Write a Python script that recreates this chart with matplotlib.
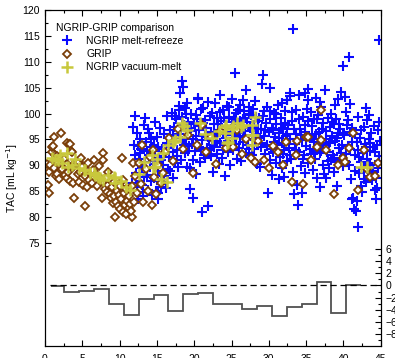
import matplotlib
matplotlib.use("Agg")
import matplotlib.pyplot as plt
import numpy as np

plt.rcParams['font.family'] = ['Liberation Sans', 'DejaVu Sans']
plt.rcParams['font.size'] = 7

# NGRIP melt-refreeze (age kyr, TAC)
ngrip_mr_x = [11.6, 11.8, 12.0, 12.1, 12.2, 12.3, 12.3, 12.4, 11.9, 12.5,
              12.6, 12.7, 12.8, 12.9, 13.0, 13.1, 13.2, 13.3, 13.4, 13.4, 13.0, 12.8,
              13.6, 13.7, 13.8, 13.9, 14.0, 14.1, 14.2, 14.3, 14.4, 14.5, 13.8,
              14.6, 14.7, 14.8, 14.9, 15.0, 15.1, 15.2, 15.3, 15.4, 15.5, 14.6, 15.2,
              15.6, 15.7, 15.8, 15.9, 16.0, 16.1, 16.2, 16.3, 16.4, 16.5, 15.6,
              16.6, 16.7, 16.8, 16.9, 17.0, 17.1, 17.2, 17.3, 17.4, 17.5,
              17.6, 17.7, 17.8, 17.9, 18.0, 18.1, 18.3, 18.4, 18.5, 18.2, 18.4,
              18.6, 18.7, 18.8, 18.9, 19.0, 19.1, 19.2, 19.3, 19.4, 19.4, 19.5,
              19.6, 19.7, 19.8, 19.9, 20.0, 20.1, 20.2, 20.3, 20.5, 20.4,
              20.6, 20.7, 20.8, 20.9, 21.0, 21.1, 21.2, 21.3, 21.4, 21.5,
              21.6, 21.7, 21.8, 21.9, 22.0, 22.1, 22.2, 22.3, 22.5, 22.4,
              22.6, 22.7, 22.8, 22.9, 23.0, 23.1, 23.2, 23.3, 23.4, 23.5,
              23.6, 23.7, 23.8, 23.9, 24.0, 24.1, 24.2, 24.3, 24.4, 24.5,
              24.6, 24.7, 24.8, 24.9, 25.0, 25.1, 25.2, 25.3, 25.4, 25.5,
              25.6, 25.7, 25.8, 25.9, 26.0, 26.1, 26.2, 26.3, 26.4, 26.5,
              26.6, 26.7, 26.8, 26.9, 27.0, 27.1, 27.2, 27.3, 27.4, 27.5,
              27.6, 27.7, 27.8, 27.9, 28.0, 28.1, 28.2, 28.3, 28.4, 28.5,
              28.6, 28.7, 28.8, 28.9, 29.0, 29.1, 29.2, 29.3, 29.4, 29.5,
              29.6, 29.7, 29.8, 29.9, 30.0, 30.1, 30.2, 30.3, 30.4, 30.5,
              30.6, 30.7, 30.8, 30.9, 31.0, 31.1, 31.2, 31.3, 31.4, 31.5,
              31.6, 31.7, 31.8, 31.9, 32.0, 32.1, 32.2, 32.3, 32.4, 32.5,
              32.6, 32.7, 32.8, 32.9, 33.0, 33.1, 33.3, 33.4, 33.5, 33.2,
              33.6, 33.7, 33.8, 33.9, 34.0, 34.1, 34.2, 34.3, 34.4, 34.5,
              34.6, 34.7, 34.8, 34.9, 35.0, 35.1, 35.2, 35.3, 35.3, 35.5,
              35.6, 35.7, 35.8, 35.9, 36.0, 36.1, 36.2, 36.3, 36.4, 36.5,
              36.6, 36.7, 36.8, 36.9, 37.0, 37.1, 37.2, 37.3, 37.5, 37.4,
              37.6, 37.7, 37.8, 37.9, 38.0, 38.1, 38.2, 38.3, 38.4, 38.5,
              38.6, 38.7, 38.8, 38.9, 39.0, 39.1, 39.2, 39.3, 39.4, 39.5,
              39.6, 39.7, 39.8, 39.9, 40.0, 40.1, 40.2, 40.3, 40.4, 40.5,
              40.6, 40.7, 40.8, 40.9, 41.0, 41.1, 41.2, 41.3, 41.4, 41.5,
              41.6, 41.7, 41.8, 41.9, 42.0, 42.1, 42.2, 42.3, 42.4, 42.5,
              42.6, 42.7, 42.8, 42.9, 43.0, 43.1, 43.2, 43.3, 43.4, 43.5,
              43.6, 43.7, 43.8, 43.9, 44.0, 44.2, 44.3, 44.4, 44.5, 44.6, 44.7, 44.8, 44.9, 44.8, 44.6,
              40.9, 39.3, 43.0, 41.9, 36.3, 34.9, 32.8, 31.7, 30.2, 38.9, 36.9, 20.5, 26.5, 32.4,
              17.1, 17.4, 17.7, 18.0, 18.2, 18.6, 18.9, 19.2, 19.6, 19.9,
              20.2, 20.6, 20.9, 21.2, 21.5, 21.8, 22.1, 22.4, 22.7, 23.0,
              23.2, 23.5, 23.8, 24.0, 24.3, 24.7, 25.0, 25.3, 25.6, 25.9,
              26.2, 26.5, 26.8, 27.1, 27.4, 27.7, 28.0, 28.3, 28.6, 28.9,
              29.2, 29.5, 29.8, 30.1, 30.4, 30.7, 31.0, 31.3, 31.6, 31.9,
              32.2, 32.5, 32.8, 33.1, 33.4, 33.7, 34.0, 34.3, 34.6, 34.9,
              35.2, 35.5, 35.8, 36.1, 36.4, 36.7, 37.0, 37.3, 37.6, 37.9,
              38.2, 38.5, 38.8, 39.1, 39.4, 39.7, 40.0, 40.3, 40.6, 40.9,
              41.2, 41.5, 41.8, 42.1, 42.4, 42.7, 43.0, 43.3, 43.6, 43.9, 44.2, 44.5, 44.8, 44.1, 43.4,
              12.4, 12.9, 13.3, 13.7, 14.2, 14.7, 15.1, 15.6, 16.0, 16.6]
ngrip_mr_y = [86.5, 97.4, 99.5, 92.0, 88.5, 96.2, 85.8, 90.3, 94.0, 83.5,
              91.2, 87.0, 95.0, 93.1, 89.4, 84.8, 84.0, 97.8, 99.1, 90.6, 86.2, 92.4,
              94.6, 88.2, 85.3, 91.9, 96.3, 89.6, 86.9, 93.5, 84.2, 90.8, 97.1,
              87.6, 98.4, 92.7, 85.1, 95.4, 89.0, 83.4, 91.5, 97.2, 86.4, 94.0, 84.6,
              86.7, 93.2, 90.1, 88.0, 96.1, 92.3, 85.7, 99.5, 94.4, 89.3, 85.9,
              91.6, 96.8, 88.9, 94.1, 100.2, 92.6, 87.5, 97.5, 90.4, 95.3,
              98.9, 93.0, 89.6, 101.5, 96.0, 103.9, 106.2, 94.7, 105.2, 91.1, 99.3,
              97.7, 92.3, 101.0, 95.1, 102.0, 89.7, 98.4, 93.8, 85.4, 89.4, 96.6,
              100.0, 94.2, 91.0, 83.6, 97.9, 92.7, 95.6, 88.3, 103.0, 99.0,
              93.5, 96.9, 90.6, 100.8, 94.8, 81.0, 98.2, 92.0, 91.4, 95.9,
              97.3, 93.3, 82.1, 102.3, 95.0, 99.6, 91.8, 96.4, 88.8, 94.0,
              97.9, 93.6, 102.0, 95.7, 99.1, 92.1, 96.8, 90.2, 103.6, 94.3,
              98.5, 91.5, 96.1, 100.6, 93.9, 88.0, 97.4, 95.2, 101.4, 92.6,
              99.4, 94.6, 90.0, 97.0, 102.8, 95.8, 92.9, 98.9, 107.8, 94.1,
              100.1, 96.3, 91.2, 98.0, 93.4, 101.7, 95.5, 90.9, 97.6, 99.0,
              94.5, 100.5, 96.6, 92.4, 104.5, 98.3, 95.1, 101.2, 93.2, 97.2,
              99.8, 95.9, 92.0, 100.9, 97.5, 94.8, 102.5, 96.0, 90.3, 98.6,
              95.3, 99.2, 89.7, 97.1, 93.6, 105.7, 107.4, 100.4, 95.7, 92.2,
              98.2, 94.0, 101.3, 84.6, 96.5, 91.0, 99.0, 93.1, 88.2, 96.9,
              92.6, 100.2, 95.4, 90.5, 98.0, 93.9, 101.6, 87.4, 96.2, 91.7,
              99.1, 94.4, 89.4, 97.3, 92.9, 87.7, 100.4, 95.6, 102.6, 90.8,
              97.8, 93.3, 103.9, 95.0, 91.3, 98.6, 116.3, 84.5, 94.2, 88.8,
              100.7, 96.0, 86.2, 82.4, 92.5, 103.6, 97.0, 89.9, 94.9, 84.7,
              99.4, 91.9, 96.4, 88.6, 93.7, 100.8, 90.4, 104.7, 102.6, 95.3,
              92.1, 100.3, 97.6, 89.1, 94.6, 98.9, 91.3, 96.1, 87.6, 93.0,
              99.7, 95.0, 85.9, 92.4, 101.3, 97.1, 90.1, 94.0, 104.5, 88.3,
              87.6, 96.7, 92.6, 99.2, 94.3, 89.5, 97.5, 91.0, 100.0, 95.6,
              92.0, 97.9, 88.8, 94.7, 99.0, 90.6, 86.0, 96.2, 93.4, 91.1,
              97.0, 104.2, 94.0, 89.9, 109.2, 95.8, 103.2, 92.2, 100.3, 97.7,
              93.7, 111.0, 90.0, 96.5, 87.3, 83.4, 94.5, 83.6, 81.5, 91.9,
              96.0, 81.1, 83.1, 78.0, 93.0, 88.6, 95.3, 86.0, 90.7, 84.8,
              92.4, 97.4, 89.2, 94.1, 86.7, 98.7, 91.2, 88.0, 95.0, 92.8,
              90.0, 96.3, 87.2, 93.5, 89.0, 85.2, 83.4, 87.5, 85.6, 96.8, 91.8, 114.3, 94.7, 98.4, 89.5,
              101.8, 102.9, 101.0, 99.3, 103.0, 103.9, 103.4, 102.1, 105.0, 101.7, 102.3, 102.9, 102.6, 102.6,
              95.9, 99.6, 91.8, 100.7, 97.1, 94.0, 99.9, 92.7, 97.3, 95.0,
              99.8, 97.6, 93.1, 101.0, 98.7, 95.4, 92.9, 100.1, 96.2, 94.7,
              98.0, 100.3, 93.0, 99.2, 96.5, 101.2, 98.4, 96.0, 94.2, 100.6,
              98.6, 95.6, 99.1, 93.9, 100.0, 97.0, 93.2, 99.4, 97.0, 94.3,
              99.6, 96.8, 93.7, 100.4, 97.3, 94.6, 99.9, 95.2, 97.1, 92.2,
              98.1, 96.0, 92.0, 100.3, 97.1, 93.0, 98.9, 95.8, 91.2, 97.7,
              98.6, 93.2, 95.6, 92.6, 99.0, 96.4, 92.8, 98.2, 95.0, 90.8,
              94.6, 98.4, 91.4, 95.2, 98.0, 92.4, 96.2, 90.6, 98.8, 93.1,
              97.2, 89.0, 94.5, 91.6, 96.8, 87.4, 93.6, 90.4, 94.3, 88.5, 92.6, 94.0, 90.9, 97.6, 99.8,
              93.8, 90.0, 87.8, 92.7, 95.1, 90.3, 93.6, 91.0, 88.6, 93.9]

# GRIP
grip_x = [0.3, 0.4, 0.5, 0.5, 0.7, 0.9, 1.0, 1.1, 1.2, 1.25, 1.3, 1.5, 1.6, 1.6, 1.8, 2.0, 2.1, 1.9,
          2.3, 2.5, 2.7, 2.9, 2.9, 3.0, 3.2, 3.3, 3.1, 3.5, 3.6, 3.4, 3.7, 3.9, 4.0, 3.8,
          4.2, 4.4, 4.5, 4.5, 4.7, 4.8, 5.0, 5.1, 5.3, 5.4, 5.6, 5.7, 5.8, 5.9,
          6.1, 6.3, 6.5, 6.6, 6.9, 7.0, 7.2, 7.4, 7.6, 7.8, 7.8, 7.9, 8.0,
          8.2, 8.3, 8.4, 8.5, 8.7, 8.8, 8.9, 9.0, 9.1, 9.2, 9.3, 9.4, 9.5, 9.6, 9.8, 9.9, 10.0,
          10.1, 10.2, 10.3, 10.4, 10.5, 10.6, 10.7, 10.8, 10.9, 11.0, 11.2, 11.3, 11.4, 11.6, 11.7, 11.8, 11.9, 11.5,
          12.1, 12.3, 12.6, 12.9, 13.2, 13.5, 13.8, 14.1, 14.3, 14.6, 14.9, 15.2, 15.5, 15.8, 16.1, 13.0, 14.5,
          16.6, 17.2, 17.8, 18.5, 19.2, 19.8, 20.4, 21.0, 21.6, 22.3, 22.9, 23.5, 24.2, 24.6, 25.2,
          25.8, 26.4, 27.0, 27.6, 28.1, 28.6, 29.4, 30.0, 30.5, 31.2, 31.9, 32.3, 33.1, 33.7, 33.8,
          34.6, 35.0, 35.2, 35.7, 36.4, 37.0, 37.0, 37.7, 38.7, 39.3, 39.9, 40.2, 40.8, 41.3, 41.9,
          42.8, 43.2, 43.5, 44.2, 44.6]
grip_y = [90.3, 86.2, 84.6, 88.8, 90.1, 92.5, 93.6, 93.7, 89.5, 95.5, 92.0, 88.0, 91.8, 88.4, 90.6, 91.7, 96.3, 87.3,
          89.2, 91.2, 88.1, 94.4, 87.5, 90.3, 94.1, 94.2, 88.8, 92.8, 92.6, 87.0, 89.6, 83.6, 90.4, 86.5,
          90.7, 88.3, 90.7, 86.8, 88.8, 91.5, 89.6, 86.2, 82.1, 88.0, 85.9, 89.0, 90.4, 87.2,
          88.6, 86.5, 89.1, 91.0, 88.4, 86.0, 89.8, 87.5, 83.6, 92.3, 91.0, 86.6, 85.5,
          87.6, 84.9, 88.8, 86.2, 84.5, 87.0, 83.7, 85.8, 82.8, 84.0, 86.8, 80.1, 83.0, 85.0, 82.2, 84.3, 86.0,
          81.6, 83.5, 91.4, 80.9, 87.2, 84.6, 82.4, 80.6, 85.5, 83.1, 81.7, 84.0, 82.6, 80.1, 86.0, 90.4, 83.0, 81.2,
          88.0, 84.6, 90.5, 86.3, 82.9, 89.2, 85.0, 91.7, 82.3, 87.8, 84.4, 90.0, 86.5, 88.6, 92.5, 94.0, 92.9,
          95.3, 90.8, 97.0, 93.2, 95.8, 88.5, 94.0, 97.8, 92.6, 95.5, 90.2, 96.6, 93.4, 94.1, 93.5,
          96.9, 92.1, 95.0, 91.5, 90.6, 94.7, 91.1, 89.4, 93.8, 92.6, 90.1, 94.6, 86.8, 92.0, 94.7,
          86.3, 95.5, 95.4, 91.0, 93.6, 100.7, 94.9, 93.0, 84.4, 90.0, 91.4, 90.7, 93.3, 96.3, 85.2,
          93.0, 89.3, 87.8, 88.0, 90.5]

# NGRIP vacuum-melt
ngrip_vm_x = [0.9, 1.4, 1.8, 2.0, 2.3, 2.9, 3.1, 3.6, 4.0, 4.5, 5.2, 5.4, 6.0, 6.6, 6.7, 7.1, 7.4, 7.8,
              8.4, 9.2, 9.4, 9.4, 10.2, 10.9, 11.4, 12.6, 13.3, 14.3, 14.5, 14.7, 15.0, 15.6, 15.8, 16.4,
              16.5, 17.2, 17.4, 18.1, 18.3, 18.6, 19.0, 20.8, 21.5, 22.4, 23.3, 24.1, 24.1, 24.3, 24.4,
              24.5, 25.0, 25.0, 25.2, 25.7, 26.3, 26.5, 27.7, 27.7, 27.8, 27.9, 28.1, 42.4, 43.1]
ngrip_vm_y = [91.4, 91.1, 91.0, 92.0, 90.4, 92.3, 89.7, 90.1, 91.2, 89.4, 89.1, 89.1, 88.5, 88.5, 88.1, 87.8, 87.6, 87.2,
              88.2, 87.8, 87.6, 86.5, 86.9, 85.9, 85.2, 88.4, 90.6, 92.0, 89.7, 89.7, 91.3, 87.4, 92.4, 86.8,
              94.0, 94.5, 94.9, 95.5, 98.1, 97.6, 96.8, 98.1, 96.0, 95.2, 96.6, 96.2, 97.5, 97.8, 94.3,
              94.6, 97.1, 95.3, 97.6, 98.1, 97.5, 97.8, 97.8, 94.0, 95.9, 95.9, 99.4, 89.7, 89.7]

# difference (right axis), 2 kyr steps
diff_edges = [0.8, 2.5, 4.6, 6.6, 8.6, 10.6, 12.6, 14.6, 16.5, 18.5, 20.5,
              22.5, 24.5, 26.4, 28.4, 30.4, 32.4, 34.4, 36.4, 38.4, 40.4, 42.4]
diff_vals = [-0.05, -1.15, -0.9, -0.6, -3.1, -4.8, -2.25, -1.6, -4.2, -1.45, -1.2,
             -3.0, -3.0, -3.9, -3.35, -5.0, -3.6, -3.0, 0.55, -4.5, 0.1]

fig = plt.figure(figsize=(3.95, 3.58), dpi=100)
ax = fig.add_axes([0.1139, 0.0335, 0.85, 0.9385])

ax.plot(ngrip_mr_x, ngrip_mr_y, '+', color='#0a0aff', ms=7, mew=1.5,
        label='NGRIP melt-refreeze', zorder=2)
ax.plot(grip_x, grip_y, 'D', mfc='white', mec='#7a3e08', ms=3.6, mew=1.3,
        label='GRIP', zorder=3)
ax.plot(ngrip_vm_x, ngrip_vm_y, '+', color='#c8c83c', ms=8, mew=1.8,
        label='NGRIP vacuum-melt', zorder=4)

ax.set_xlim(0, 45)
ax.set_ylim(55.1, 120)
ax.set_xticks(np.arange(0, 46, 5))
ax.set_xticks(np.arange(2.5, 45, 5), minor=True)
ax.set_yticks(np.arange(75, 121, 5))
ax.set_yticks(np.arange(72.5, 120, 2.5), minor=True)
ax.tick_params(which='both', direction='in', top=True, right=False, labelsize=7.5)
ax.tick_params(which='major', length=4, width=0.8)
ax.tick_params(which='minor', length=2.5, width=0.8)
ax.tick_params(axis='x', pad=6)
ax.set_ylabel('TAC [mL kg$^{-1}$]', fontsize=7.5, labelpad=2)

leg = ax.legend(title='NGRIP-GRIP comparison', loc='upper left', frameon=False,
                fontsize=7.5, title_fontsize=7.5, alignment='left',
                bbox_to_anchor=(0.015, 0.98), handletextpad=0.9,
                labelspacing=0.3, borderaxespad=0.2)

ax2 = ax.twinx()
ax2.set_ylim(-10, 45.5)
ax2.hlines(0, 0.7, 45, colors='black', linestyles=(0, (5, 3)), lw=0.9)
ax2.stairs(diff_vals, diff_edges, baseline=None, color='#505050', lw=1.3)
ax2.set_yticks(np.arange(-8, 7, 2))
ax2.set_yticks(np.arange(-9, 7, 1), minor=True)
ax2.tick_params(which='both', direction='in', labelsize=7.5)
ax2.tick_params(which='major', length=4, width=0.8)
ax2.tick_params(which='minor', length=2.5, width=0.8)
ax2.set_xlim(0, 45)

fig.savefig('out.png', dpi=100)
